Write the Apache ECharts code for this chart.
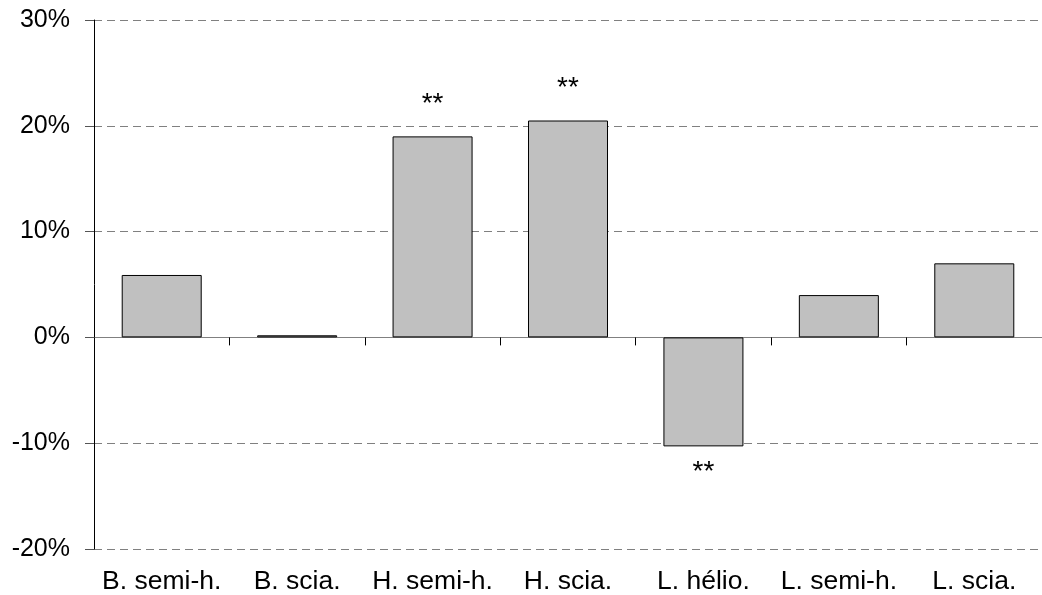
<!DOCTYPE html>
<html>
<head>
<meta charset="utf-8">
<script src="https://cdn.jsdelivr.net/npm/echarts@6/dist/echarts.min.js"></script>
<style>html,body{margin:0;padding:0;background:#fff;}#c{width:1042px;height:595px;}</style>
</head>
<body>
<div id="c"></div>
<script>
const categories = ['B. semi-h.', 'B. scia.', 'H. semi-h.', 'H. scia.', 'L. hélio.', 'L. semi-h.', 'L. scia.'];
const values = [5.9, 0.2, 19.0, 20.5, -10.3, 4.0, 7.0];
const stars = ['', '', '**', '**', '**', '', ''];
const yTicks = { min: -20, max: 30, interval: 10 };

const FONT = 'Liberation Sans, Arial, sans-serif';
const chart = echarts.init(document.getElementById('c'), null, { renderer: 'canvas' });

const data = values.map((v, i) => ({
  value: v,
  label: {
    show: stars[i] !== '',
    formatter: stars[i],
    position: v >= 0 ? 'top' : 'bottom',
    distance: v >= 0 ? 18 : 12
  }
}));

chart.setOption({
  animation: false,
  backgroundColor: '#fff',
  grid: { left: 94, top: 20, bottom: 44, width: 955 },
  xAxis: [
    {
      type: 'category', data: categories, position: 'bottom',
      axisLine: { onZero: true, lineStyle: { color: '#808080', width: 1 } },
      axisTick: { show: true, length: 8, lineStyle: { color: '#000' } },
      axisLabel: { show: false },
      splitLine: { show: false }
    },
    {
      type: 'category', data: categories, position: 'bottom',
      axisLine: { show: false, onZero: false },
      axisTick: { show: false },
      axisLabel: { show: true, interval: 0, margin: 19, color: '#000', fontSize: 26.5, fontFamily: FONT },
      splitLine: { show: false }
    }
  ],
  yAxis: {
    type: 'value', min: yTicks.min, max: yTicks.max, interval: yTicks.interval,
    axisLine: { show: true, lineStyle: { color: '#000', width: 1 } },
    axisTick: { show: true, length: 9, lineStyle: { color: '#555' } },
    axisLabel: { formatter: '{value}%', margin: 24, color: '#000', fontSize: 25, fontFamily: FONT },
    splitLine: { show: true, lineStyle: { color: '#808080', type: [8, 5], width: 1 } }
  },
  series: [{
    type: 'bar',
    xAxisIndex: 0,
    data: data,
    barWidth: 80,
    itemStyle: { color: '#C0C0C0', borderColor: '#000', borderWidth: 1 },
    label: { color: '#000', fontSize: 28, fontFamily: FONT }
  }]
});
</script>
</body>
</html>
